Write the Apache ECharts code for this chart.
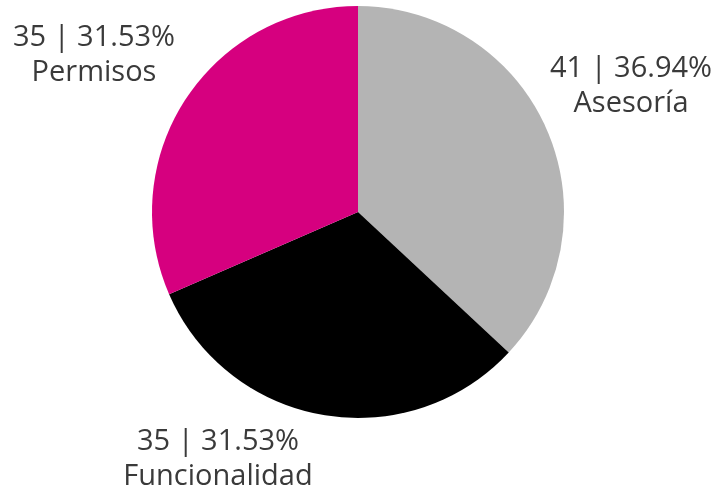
<!DOCTYPE html>
<html>
<head>
<meta charset="utf-8">
<script src="https://cdn.jsdelivr.net/npm/echarts@6/dist/echarts.min.js"></script>
<style>html,body{margin:0;padding:0;background:#fff}#c{width:722px;height:500px}</style>
</head>
<body>
<div id="c"></div>
<script>
const categories = ['Asesoría', 'Funcionalidad', 'Permisos'];
const values = [41, 35, 35];
const colors = ['#B4B4B4', '#000000', '#D6007F'];
// label anchor points (layout only)
const labelAnchors = [[631, 86], [218, 459], [94, 55]];

const total = values.reduce((a, b) => a + b, 0);
const chart = echarts.init(document.getElementById('c'), null, {renderer: 'canvas'});
chart.setOption({
  animation: false,
  series: [{
    type: 'pie',
    center: [358, 212],
    radius: 206,
    startAngle: 90,
    clockwise: true,
    data: categories.map((c, i) => ({name: c, value: values[i], itemStyle: {color: colors[i]}})),
    label: {
      show: true,
      position: 'outside',
      formatter: p => p.value + ' | ' + (p.value / total * 100).toFixed(2) + '%\n' + p.name,
      fontFamily: 'Open Sans',
      fontSize: 29,
      lineHeight: 35,
      color: '#3a3a3a',
      overflow: 'none',
      width: 300
    },
    labelLine: {show: false, length: 30, length2: 0},
    labelLayout: p => ({
      x: labelAnchors[p.dataIndex][0],
      y: labelAnchors[p.dataIndex][1],
      align: 'center',
      verticalAlign: 'middle'
    }),
    emphasis: {disabled: true}
  }]
});
</script>
</body>
</html>
